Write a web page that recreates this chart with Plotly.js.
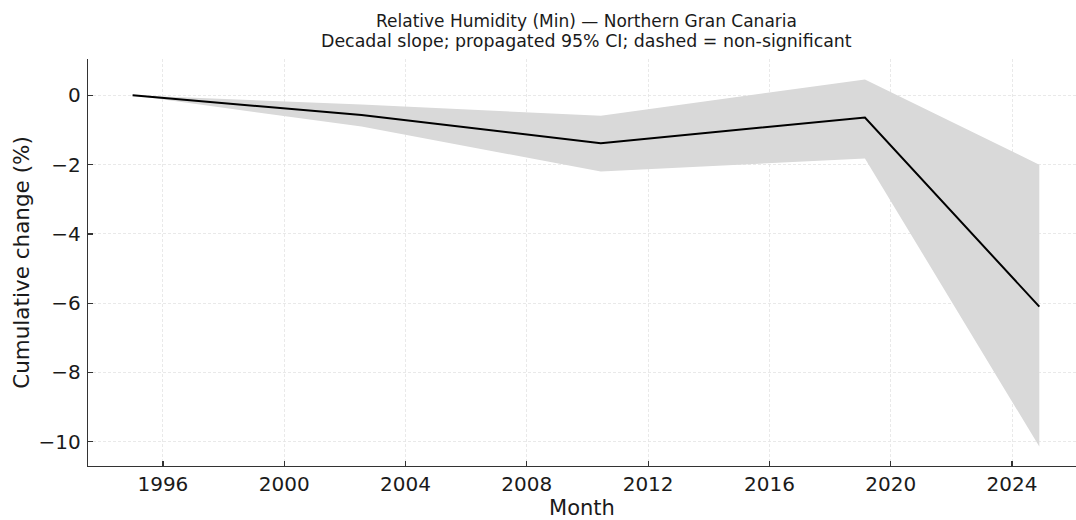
<!DOCTYPE html>
<html>
<head>
<meta charset="utf-8">
<script src="https://cdn.plot.ly/plotly-3.0.1.min.js"></script>
<style>
  html, body { margin: 0; padding: 0; background: #ffffff; }
  #chart { width: 1076px; height: 520px; }
</style>
</head>
<body>
<div id="chart"></div>
<script>
// Segment breakpoints (decimal years) and cumulative change in min relative humidity (%)
const years = [1995.0, 2002.55, 2010.44, 2019.15, 2024.9];
const cumulativeChange = [0, -0.57, -1.38, -0.64, -6.10];
// Propagated 95% confidence bounds
const ciUpper = [0, -0.26, -0.59, 0.46, -2.00];
const ciLower = [0, -0.90, -2.20, -1.82, -10.14];
// Axis ticks
const xTicks = [1996, 2000, 2004, 2008, 2012, 2016, 2020, 2024];
const yTicks = [0, -2, -4, -6, -8, -10];
// Title lines
const titleMain = "Relative Humidity (Min) — Northern Gran Canaria";
const titleSub = "Decadal slope; propagated 95% CI; dashed = non-significant";

const font = "DejaVu Sans, Liberation Sans, sans-serif";
const textColor = "#1a1a1a";
const axisColor = "#333333";

const traces = [
  {
    x: years, y: ciUpper, mode: "lines",
    line: { width: 0, color: "rgba(0,0,0,0)" },
    hoverinfo: "skip", showlegend: false
  },
  {
    x: years, y: ciLower, mode: "lines",
    line: { width: 0, color: "rgba(0,0,0,0)" },
    fill: "tonexty", fillcolor: "#d9d9d9",
    hoverinfo: "skip", showlegend: false
  },
  {
    x: years, y: cumulativeChange, mode: "lines",
    line: { color: "#000000", width: 2 },
    showlegend: false
  }
];

const gridStyle = { showgrid: true, gridcolor: "#e4e4e4", gridwidth: 0.8, griddash: "3px,2px" };

const layout = {
  width: 1076, height: 520,
  margin: { l: 88, r: 0, t: 59, b: 54 },
  paper_bgcolor: "#ffffff", plot_bgcolor: "#ffffff",
  font: { family: font, color: textColor },
  annotations: [
    {
      text: titleMain, xref: "paper", yref: "paper",
      x: 0.5045, y: 1.093, xanchor: "center", yanchor: "middle",
      showarrow: false, font: { family: font, size: 17, color: textColor }
    },
    {
      text: titleSub, xref: "paper", yref: "paper",
      x: 0.5045, y: 1.044, xanchor: "center", yanchor: "middle",
      showarrow: false, font: { family: font, size: 17.4, color: textColor }
    }
  ],
  xaxis: Object.assign({
    range: [1993.53, 2026.11],
    tickmode: "array", tickvals: xTicks, ticktext: xTicks.map(String),
    ticks: "inside", ticklen: 5, tickwidth: 1.2, tickcolor: axisColor,
    ticklabelstandoff: 0,
    tickfont: { family: font, size: 20, color: textColor },
    showline: true, linecolor: axisColor, linewidth: 1.3, mirror: false,
    zeroline: false,
    title: { text: "Month", font: { family: font, size: 21, color: textColor }, standoff: 5 }
  }, gridStyle),
  yaxis: Object.assign({
    range: [-10.70, 1.05],
    tickmode: "array", tickvals: yTicks,
    ticks: "inside", ticklen: 5, tickwidth: 1.2, tickcolor: axisColor,
    ticklabelstandoff: 2,
    tickfont: { family: font, size: 20, color: textColor },
    showline: true, linecolor: axisColor, linewidth: 1.3, mirror: false,
    zeroline: false,
    title: { text: "Cumulative change (%)", font: { family: font, size: 21.5, color: textColor }, standoff: 3 }
  }, gridStyle)
};

Plotly.newPlot("chart", traces, layout, { displayModeBar: false, staticPlot: true });
</script>
</body>
</html>
